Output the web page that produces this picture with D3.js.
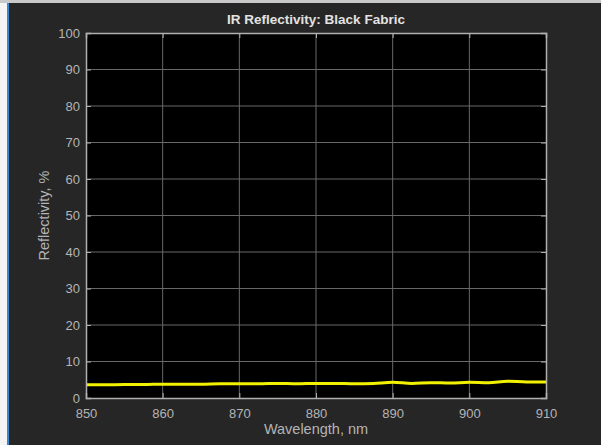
<!DOCTYPE html>
<html><head><meta charset="utf-8">
<script src="https://cdn.jsdelivr.net/npm/d3@7"></script>
<style>
html,body{margin:0;padding:0;background:#262626;}
svg{display:block;}
text{font-family:"Liberation Sans",Arial,sans-serif;}
</style></head>
<body>
<svg id="c" width="601" height="445"></svg>
<script>
const wavelengths = [850,852.5,855,857.5,860,862.5,865,867.5,870,872.5,875,877.5,880,882.5,885,887.5,890,892.5,895,897.5,900,902.5,905,907.5,910];
const reflectivity = [3.6,3.6,3.7,3.7,3.8,3.8,3.8,3.9,3.9,3.9,4.0,3.9,4.0,4.0,3.9,4.0,4.3,4.0,4.2,4.1,4.3,4.2,4.6,4.4,4.4];
const xTicks = [850,860,870,880,890,900,910];
const yTicks = [0,10,20,30,40,50,60,70,80,90,100];
const titleText = "IR Reflectivity: Black Fabric";
const xLabel = "Wavelength, nm";
const yLabel = "Reflectivity, %";

const svg = d3.select("#c");
svg.append("rect").attr("x",0).attr("y",0).attr("width",601).attr("height",445).attr("fill","#262626");
svg.append("rect").attr("x",0).attr("y",0).attr("width",7).attr("height",445).attr("fill","#f4f4f4");
svg.append("rect").attr("x",7).attr("y",0).attr("width",2).attr("height",445).attr("fill","#3a86d0");
svg.append("rect").attr("x",0).attr("y",0).attr("width",601).attr("height",3).attr("fill","#c9c9c9");

const L=86, R=546, T=33, B=398;
const x = d3.scaleLinear().domain([850,910]).range([L,R]);
const y = d3.scaleLinear().domain([0,100]).range([B,T]);

svg.append("rect").attr("x",L).attr("y",T).attr("width",R-L).attr("height",B-T).attr("fill","#000");

const g = svg.append("g");
g.selectAll("line.gx").data(xTicks.slice(1,-1)).join("line")
 .attr("x1",d=>x(d)).attr("x2",d=>x(d)).attr("y1",T).attr("y2",B)
 .attr("stroke","#686868").attr("stroke-width",1);
g.selectAll("line.gy").data(yTicks.slice(1,-1)).join("line")
 .attr("y1",d=>y(d)).attr("y2",d=>y(d)).attr("x1",L).attr("x2",R)
 .attr("stroke","#686868").attr("stroke-width",1);

svg.append("path").datum(wavelengths.map((w,i)=>[w,reflectivity[i]]))
 .attr("fill","none").attr("stroke","#f2f200").attr("stroke-width",3)
 .attr("d",d3.line().x(d=>x(d[0])).y(d=>y(d[1])).curve(d3.curveMonotoneX));

const axCol="#b0b0b0";
const xa = svg.append("g").attr("transform",`translate(0,${B})`)
 .call(d3.axisBottom(x).tickValues(xTicks).tickSize(-5).tickPadding(11).tickFormat(d3.format("d")));
const xa2 = svg.append("g").attr("transform",`translate(0,${T})`)
 .call(d3.axisTop(x).tickValues(xTicks).tickSize(-5).tickFormat(""));
const ya = svg.append("g").attr("transform",`translate(${L},0)`)
 .call(d3.axisLeft(y).tickValues(yTicks).tickSize(-5).tickPadding(6).tickFormat(d3.format("d")));
const ya2 = svg.append("g").attr("transform",`translate(${R},0)`)
 .call(d3.axisRight(y).tickValues(yTicks).tickSize(-5).tickFormat(""));
[xa,xa2,ya,ya2].forEach(a=>{
  a.selectAll("path.domain").attr("stroke",axCol).attr("stroke-width",1.5);
  a.selectAll(".tick line").attr("stroke",axCol);
  a.selectAll("text").attr("fill","#b4b4b4").attr("font-size",13);
});

svg.append("text").attr("x",316).attr("y",24).attr("text-anchor","middle")
 .attr("fill","#e2e2e2").attr("font-size",13.5).attr("font-weight","bold").text(titleText);
svg.append("text").attr("x",316).attr("y",434).attr("text-anchor","middle")
 .attr("fill","#b4b4b4").attr("font-size",14.5).text(xLabel);
svg.append("text").attr("transform",`translate(49,${(T+B)/2}) rotate(-90)`).attr("text-anchor","middle")
 .attr("fill","#b4b4b4").attr("font-size",14.5).text(yLabel);
</script>
</body></html>
